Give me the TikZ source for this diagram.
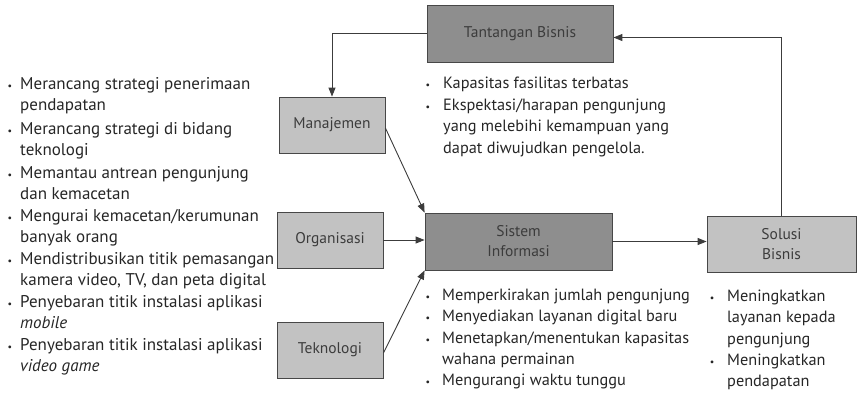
\documentclass[tikz,border=0pt]{standalone}
\usepackage{fontspec}
\setmainfont{PT Sans}
\usetikzlibrary{arrows.meta}
\definecolor{darkbox}{HTML}{8E8E8E}
\definecolor{lightbox}{HTML}{C2C2C2}
\definecolor{ink}{HTML}{262626}
\newcommand{\lines}[1]{\begin{tabular}[t]{@{}l@{}}#1\end{tabular}}
\begin{document}
\begin{tikzpicture}[x=1pt,y=-1pt,
 box/.style={draw=ink!85, line width=0.8pt, inner sep=0pt, font=\fontsize{15.5}{20}\selectfont, text=ink!90, align=center},
 dbox/.style={box, fill=darkbox},
 lbox/.style={box, fill=lightbox},
 conn/.style={draw=ink!90, line width=0.9pt, -{Triangle[length=9pt,width=7pt]}},
 lst/.style={anchor=base west, inner sep=0pt, font=\fontsize{16.3}{21.5}\selectfont, text=ink},
 lstl/.style={lst, font=\fontsize{17}{21.5}\selectfont},
 bul/.style={anchor=base, inner sep=0pt, font=\fontsize{10}{12}\selectfont, text=ink},
 ]
\useasboundingbox (0,0) rectangle (861,400);
% boxes
\node[dbox, minimum width=186pt, minimum height=57pt] (tant) at (520,33.5) {Tantangan Bisnis};
\node[lbox, minimum width=106pt, minimum height=56pt] (man) at (332,125) {Manajemen};
\node[lbox, minimum width=106pt, minimum height=56pt] (org) at (330,240) {Organisasi};
\node[lbox, minimum width=106pt, minimum height=56pt] (tek) at (330,350) {Teknologi};
\node[dbox, minimum width=187pt, minimum height=57pt] (sis) at (518.5,241.5) {Sistem\\Informasi};
\node[lbox, minimum width=149pt, minimum height=56pt] (sol) at (781.5,244) {Solusi\\Bisnis};
% connectors
\draw[conn] (tant.west) -| (man.north);
\draw[conn] (sol.north) |- ([yshift=-4pt]tant.east);
\draw[conn] ([yshift=-3pt]man.east) -- (sis.north west);
\draw[conn] (org.east) -- (org.east -| sis.west);
\draw[conn] ([yshift=-3pt]tek.east) -- (sis.south west);
\draw[conn] (sis.east) -- (sis.east -| sol.west);
% left list
\node[bul] (lb1) at (10,89) {•};
\node[lstl] (l1) at (20,89) {\lines{Merancang strategi penerimaan\\pendapatan}};
\node[bul] (lb2) at (10,134) {•};
\node[lstl] (l2) at (20,134) {\lines{Merancang strategi di bidang\\teknologi}};
\node[bul] (lb3) at (10,178) {•};
\node[lstl] (l3) at (20,178) {\lines{Memantau antrean pengunjung\\dan kemacetan}};
\node[bul] (lb4) at (10,221) {•};
\node[lstl] (l4) at (20,221) {\lines{Mengurai kemacetan/kerumunan\\banyak orang}};
\node[bul] (lb5) at (10,264) {•};
\node[lstl] (l5) at (20,264) {\lines{Mendistribusikan titik pemasangan\\kamera video, TV, dan peta digital}};
\node[bul] (lb6) at (10,307) {•};
\node[lstl] (l6) at (20,307) {\lines{Penyebaran titik instalasi aplikasi\\\textit{mobile}}};
\node[bul] (lb7) at (10,350) {•};
\node[lstl] (l7) at (20,350) {\lines{Penyebaran titik instalasi aplikasi\\\textit{video game}}};
% list under Tantangan
\node[bul] (tb1) at (428,88) {•};
\node[lst] (t1) at (443,88) {Kapasitas fasilitas terbatas};
\node[bul] (tb2) at (428,110) {•};
\node[lst] (t2) at (443,110) {\lines{Ekspektasi/harapan pengunjung\\yang melebihi kemampuan yang\\dapat diwujudkan pengelola.}};
% list under Sistem
\node[bul] (sb1) at (428,300) {•};
\node[lst] (s1) at (442,300) {Memperkirakan jumlah pengunjung};
\node[bul] (sb2) at (428,321) {•};
\node[lst] (s2) at (442,321) {Menyediakan layanan digital baru};
\node[bul] (sb3) at (428,343) {•};
\node[lst] (s3) at (442,343) {\lines{Menetapkan/menentukan kapasitas\\wahana permainan}};
\node[bul] (sb4) at (428,385) {•};
\node[lst] (s4) at (442,385) {Mengurangi waktu tunggu};
% list under Solusi
\node[bul] (ob1) at (712,301) {•};
\node[lst] (o1) at (727,301) {\lines{Meningkatkan\\layanan kepada\\pengunjung}};
\node[bul] (ob2) at (712,365) {•};
\node[lst] (o2) at (727,365) {\lines{Meningkatkan\\pendapatan}};
\end{tikzpicture}
\end{document}
